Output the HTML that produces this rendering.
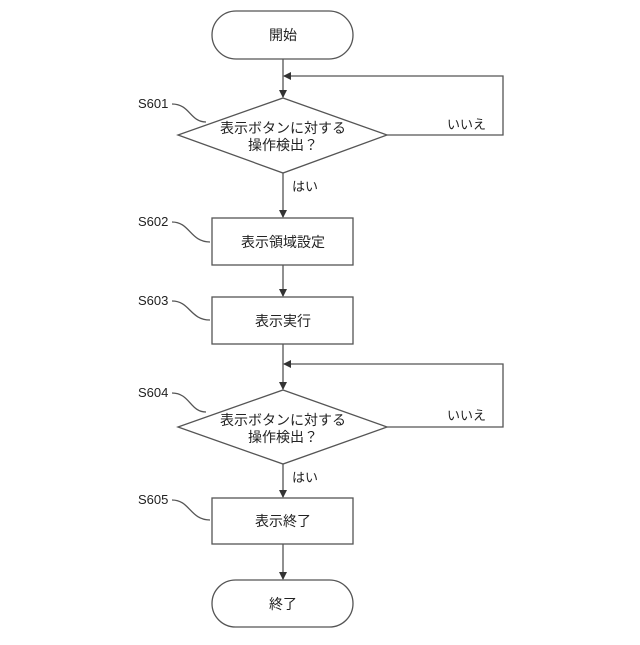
<!DOCTYPE html>
<html><head><meta charset="utf-8"><style>
body{margin:0;background:#fff}
svg text{font-family:"Liberation Sans","Noto Sans CJK JP",sans-serif;fill:#222}
</style></head><body>
<svg width="640" height="640" viewBox="0 0 640 640" xmlns="http://www.w3.org/2000/svg">
<defs><marker id="a" markerWidth="8" markerHeight="8" refX="7" refY="4" orient="auto" markerUnits="userSpaceOnUse"><path d="M0,0 L8,4 L0,8 z" fill="#333"/></marker></defs>
<g stroke="#555" stroke-width="1.3" fill="none">
<rect x="212" y="11" width="141" height="48" rx="24"/>
<line x1="283" y1="59" x2="283" y2="97" marker-end="url(#a)"/>
<polygon points="283,98 387,135 283,173 178,135"/>
<polyline points="387,135 503,135 503,76 284,76" marker-end="url(#a)"/>
<line x1="283" y1="173" x2="283" y2="217" marker-end="url(#a)"/>
<rect x="212" y="218" width="141" height="47"/>
<line x1="283" y1="265" x2="283" y2="296" marker-end="url(#a)"/>
<rect x="212" y="297" width="141" height="47"/>
<line x1="283" y1="344" x2="283" y2="389" marker-end="url(#a)"/>
<polygon points="283,390 387,427 283,464 178,427"/>
<polyline points="387,427 503,427 503,364 284,364" marker-end="url(#a)"/>
<line x1="283" y1="464" x2="283" y2="497" marker-end="url(#a)"/>
<rect x="212" y="498" width="141" height="46"/>
<line x1="283" y1="544" x2="283" y2="579" marker-end="url(#a)"/>
<rect x="212" y="580" width="141" height="47" rx="23.5"/>
<path d="M172,104 C190,104 190,122 206,122"/>
<path d="M172,222 C190,222 190,242 210,242"/>
<path d="M172,301 C190,301 190,320 210,320"/>
<path d="M172,393 C190,393 190,412 206,412"/>
<path d="M172,500 C190,500 190,520 210,520"/>
</g>
<g font-size="14" text-anchor="middle">
<text x="283" y="40">開始</text>
<text x="283" y="133">表示ボタンに対する</text>
<text x="283" y="150">操作検出？</text>
<text x="283" y="247">表示領域設定</text>
<text x="283" y="326">表示実行</text>
<text x="283" y="425">表示ボタンに対する</text>
<text x="283" y="442">操作検出？</text>
<text x="283" y="526">表示終了</text>
<text x="283" y="609">終了</text>
</g>
<g font-size="13">
<text x="447" y="129">いいえ</text>
<text x="292" y="191">はい</text>
<text x="447" y="420">いいえ</text>
<text x="292" y="482">はい</text>
<text x="138" y="108">S601</text>
<text x="138" y="226">S602</text>
<text x="138" y="305">S603</text>
<text x="138" y="397">S604</text>
<text x="138" y="504">S605</text>
</g>
</svg>
</body></html>
